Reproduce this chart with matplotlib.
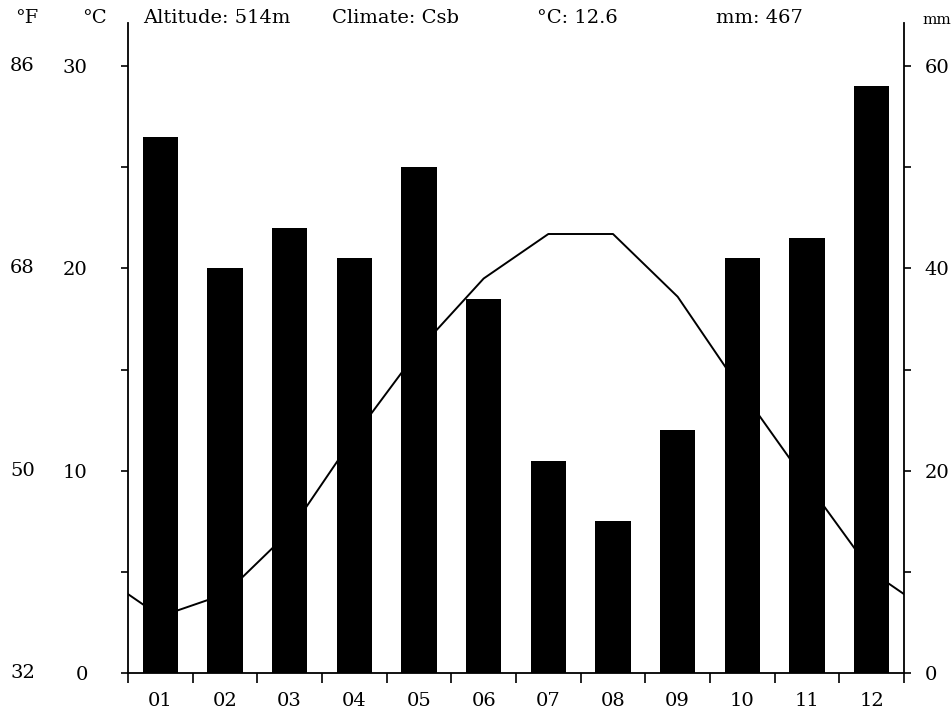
import matplotlib
matplotlib.use('Agg')
import matplotlib.pyplot as plt
import matplotlib.transforms as mtransforms

plt.rcParams['font.family'] = ['DejaVu Serif']

# data
months = ['01', '02', '03', '04', '05', '06', '07', '08', '09', '10', '11', '12']
precip_mm = [53, 40, 44, 41, 50, 37, 21, 15, 24, 41, 43, 58]
temp_c = [2.8, 3.9, 7.0, 11.7, 16.0, 19.5, 21.7, 21.7, 18.6, 13.9, 9.4, 5.0]
temp_edges = [3.9, 3.9]  # value of the line at the left / right frame
c_ticks = [0, 10, 20, 30]
f_labels = ['32', '50', '68', '86']
mm_ticks = [0, 20, 40, 60]
header = [('°F', 15), ('°C', 82), ('Altitude: 514m', 143), ('Climate: Csb', 332),
          ('°C: 12.6', 537), ('mm: 467', 716)]

W, H = 952, 716
fig = plt.figure(figsize=(W / 100, H / 100), dpi=100)
ax = fig.add_axes([128 / W, (H - 673) / H, (904 - 128) / W, (673 - 23) / H])
ax2 = ax.twinx()

centers = [i + 0.5 for i in range(len(months))]
line_x = [0] + centers + [len(months)]
line_y = [temp_edges[0]] + temp_c + [temp_edges[1]]

# line first, bars on the twin axis cover it
ax.plot(line_x, line_y, color='black', lw=1.4)
ax2.bar(centers, precip_mm, width=0.55, color='black')

ax.set_xlim(0, 12)
ax.set_ylim(0, 32.13)
ax2.set_ylim(0, 64.26)

for s in ['top', 'right']:
    ax.spines[s].set_visible(False)
for s in ['top', 'left', 'bottom']:
    ax2.spines[s].set_visible(False)
for a in (ax, ax2):
    for s in a.spines.values():
        s.set_linewidth(1.3)

# x axis: ticks at month borders, labels at centres
ax.set_xticks(range(13))
ax.set_xticklabels([''] * 13)
ax.set_xticks(centers, minor=True)
ax.set_xticklabels(months, minor=True)
ax.tick_params(axis='x', which='major', direction='out', length=7, width=1.2)
ax.tick_params(axis='x', which='minor', length=0, pad=14, labelsize=14)

# left: deg C
ax.set_yticks(c_ticks)
ax.set_yticks([5, 15, 25], minor=True)
ax.tick_params(axis='y', which='both', direction='out', length=5, width=1.2)
ax.tick_params(axis='y', which='major', pad=24, labelsize=14)

# deg F labels further left
trans = mtransforms.blended_transform_factory(ax.transAxes, ax.transData)
for c, f in zip(c_ticks, f_labels):
    ax.text(-0.136, c, f, transform=trans, ha='center', va='center', fontsize=14)

# right: mm
ax2.set_yticks(mm_ticks)
ax2.set_yticks([10, 30, 50], minor=True)
ax2.tick_params(axis='y', which='both', direction='out', length=5, width=1.2)
ax2.tick_params(axis='y', which='major', pad=10, labelsize=14)

for txt, x in header:
    fig.text(x / W, 1 - 18 / H, txt, ha='left', va='center', fontsize=14)
fig.text(951 / W, 1 - 20 / H, 'mm', ha='right', va='center', fontsize=11)

fig.savefig('out.png', dpi=100)
